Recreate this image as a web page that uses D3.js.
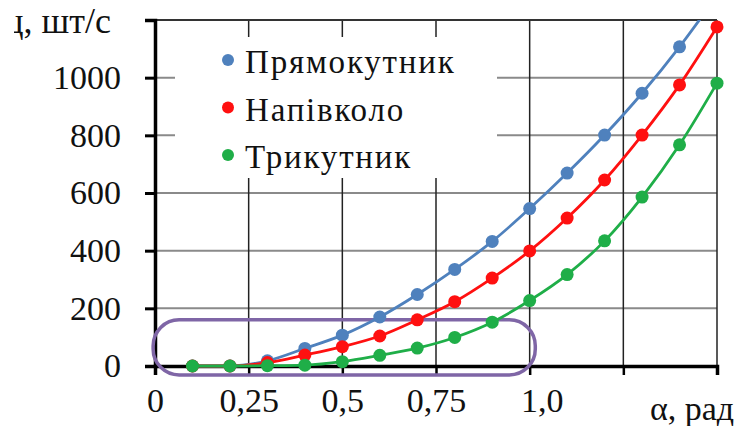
<!DOCTYPE html>
<html>
<head>
<meta charset="utf-8">
<script src="https://cdn.jsdelivr.net/npm/d3@7"></script>
<style>
  body { margin: 0; background: #fff; }
  svg { display: block; }
  text { font-family: "Liberation Serif", "DejaVu Serif", "Noto Serif", Times, serif; }
</style>
</head>
<body>
<script>
'use strict';

// angle values, rad
const alphas = [0.1, 0.2, 0.3, 0.4, 0.5, 0.6, 0.7, 0.8, 0.9, 1.0, 1.1, 1.2, 1.3, 1.4, 1.5];
// output, pcs/s
const rectangle = [0, 0, 18, 61, 107, 170, 248, 335, 432, 546, 669, 801, 946, 1107, 1285];
const semicircle = [0, 0, 12, 38, 67, 104, 160, 223, 305, 399, 513, 645, 801, 975, 1176];
const triangle = [0, 0, 1, 3, 15, 37, 62, 99, 152, 227, 317, 434, 586, 767, 981];

const seriesNames = ["Прямокутник", "Напівколо", "Трикутник"];
const seriesColors = ["#4f81bd", "#ff1010", "#1fae48"];

const xTicks = [0, 0.25, 0.5, 0.75, 1.0, 1.25, 1.5];
const xTickLabels = ["0", "0,25", "0,5", "0,75", "1,0", "", ""];
const yTicks = [0, 200, 400, 600, 800, 1000, 1200];
const yTickLabels = ["0", "200", "400", "600", "800", "1000", ""];

// highlighted region (purple outline), in data units
const boxX = [-0.005, 1.015];
const boxY = [-31, 160];

(function() {

  let width = 744;
  let height = 426;

  window.onload = function() {
    let svg = d3.select('body')
      .append('svg')
      .attr('width', width)
      .attr('height', height);
    drawChart(svg);
  }

  function drawChart(svg) {
    let xScale = d3.scaleLinear().domain([0, 1.5]).range([155, 717]);
    let yScale = d3.scaleLinear().domain([0, 1200]).range([366, 20]);

    // horizontal grid (grey)
    svg.append("g")
      .selectAll("line")
      .data(yTicks.slice(1, -1))
      .enter()
      .append("line")
        .attr("x1", xScale(0))
        .attr("x2", xScale(1.5))
        .attr("y1", (d) => yScale(d))
        .attr("y2", (d) => yScale(d))
        .attr("stroke", "#8a8a8a")
        .attr("stroke-width", 2);

    // vertical grid (dark)
    svg.append("g")
      .selectAll("line")
      .data(xTicks.slice(1))
      .enter()
      .append("line")
        .attr("x1", (d) => xScale(d))
        .attr("x2", (d) => xScale(d))
        .attr("y1", yScale(0))
        .attr("y2", yScale(1200))
        .attr("stroke", "#222")
        .attr("stroke-width", 1.5);

    // top border
    svg.append("line")
      .attr("x1", xScale(0)).attr("x2", xScale(1.5))
      .attr("y1", yScale(1200)).attr("y2", yScale(1200))
      .attr("stroke", "#333")
      .attr("stroke-width", 2);

    // legend background hides the grid behind it
    svg.append("rect")
      .attr("x", 175).attr("y", 37)
      .attr("width", 322).attr("height", 141)
      .attr("fill", "#fff");

    // y axis
    let yAxis = d3.axisLeft(yScale)
      .tickValues(yTicks)
      .tickSize(10)
      .tickPadding(24)
      .tickFormat((d, i) => yTickLabels[i]);
    let gy = svg.append("g")
      .attr("transform", "translate(" + xScale(0) + ",0)")
      .call(yAxis);
    gy.attr("font-family", null);
    gy.select(".domain").attr("stroke", "#000").attr("stroke-width", 3.5);
    gy.selectAll(".tick line").attr("stroke", "#000").attr("stroke-width", 3);
    gy.selectAll("text")
      .attr("fill", "#111")
      .style("font-size", "34px");

    // x axis
    let xAxis = d3.axisBottom(xScale)
      .tickValues(xTicks)
      .tickSize(9)
      .tickPadding(13)
      .tickFormat((d, i) => xTickLabels[i]);
    let gx = svg.append("g")
      .attr("transform", "translate(0," + yScale(0) + ")")
      .call(xAxis);
    gx.attr("font-family", null);
    gx.select(".domain").attr("stroke", "#000").attr("stroke-width", 3.5);
    gx.selectAll(".tick line").attr("stroke", "#000").attr("stroke-width", 2.5);
    gx.selectAll("text")
      .attr("fill", "#111")
      .attr("dx", (d) => d === 1.0 ? 12 : 0)
      .style("font-size", "34px");

    // x axis title
    svg.append("text")
      .attr("x", 692)
      .attr("y", 420)
      .attr("text-anchor", "middle")
      .attr("fill", "#111")
      .style("font-size", "34px")
      .text("α, рад");

    // y axis title, cut off at the left edge like the source
    svg.append("clipPath")
      .attr("id", "title-clip")
      .append("rect")
        .attr("x", 14).attr("y", 0)
        .attr("width", 140).attr("height", 60);
    svg.append("text")
      .attr("clip-path", "url(#title-clip)")
      .attr("x", 111)
      .attr("y", 33)
      .attr("text-anchor", "end")
      .attr("fill", "#111")
      .style("font-size", "36px")
      .text("Пц, шт/с");

    // highlighted region
    svg.append("rect")
      .attr("x", xScale(boxX[0]))
      .attr("y", yScale(boxY[1]))
      .attr("width", xScale(boxX[1]) - xScale(boxX[0]))
      .attr("height", yScale(boxY[0]) - yScale(boxY[1]))
      .attr("rx", 26)
      .attr("fill", "none")
      .attr("stroke", "#7f66a6")
      .attr("stroke-width", 3.5);

    // series, clipped at the top of the plot
    svg.append("clipPath")
      .attr("id", "plot-clip")
      .append("rect")
        .attr("x", 140).attr("y", yScale(1200))
        .attr("width", 604).attr("height", 400);

    let allSeries = [rectangle, semicircle, triangle];
    let line = d3.line()
      .x((d, i) => xScale(alphas[i]))
      .y((d) => yScale(d))
      .curve(d3.curveMonotoneX);

    let plot = svg.append("g").attr("clip-path", "url(#plot-clip)");

    // draw back to front so green sits on top like in the source
    [0, 1, 2].forEach(function(s) {
      plot.append("path")
        .datum(allSeries[s])
        .attr("d", line)
        .attr("fill", "none")
        .attr("stroke", seriesColors[s])
        .attr("stroke-width", 2.8);

      plot.append("g")
        .selectAll("circle")
        .data(allSeries[s])
        .enter()
        .append("circle")
          .attr("cx", (d, i) => xScale(alphas[i]))
          .attr("cy", (d) => yScale(d))
          .attr("r", 6.5)
          .attr("fill", seriesColors[s]);
    });

    // legend
    let legend = svg.append("g")
      .selectAll("g")
      .data(seriesNames)
      .enter()
      .append("g")
        .attr("transform", (d, i) => "translate(228," + (60 + i * 47.5) + ")");
    legend.append("circle")
      .attr("r", 6)
      .attr("fill", (d, i) => seriesColors[i]);
    legend.append("text")
      .attr("x", 17)
      .attr("y", 13)
      .attr("fill", "#111")
      .style("font-size", "33px")
      .style("letter-spacing", "1.8px")
      .text((d) => d);
  }

})();
</script>
</body>
</html>
